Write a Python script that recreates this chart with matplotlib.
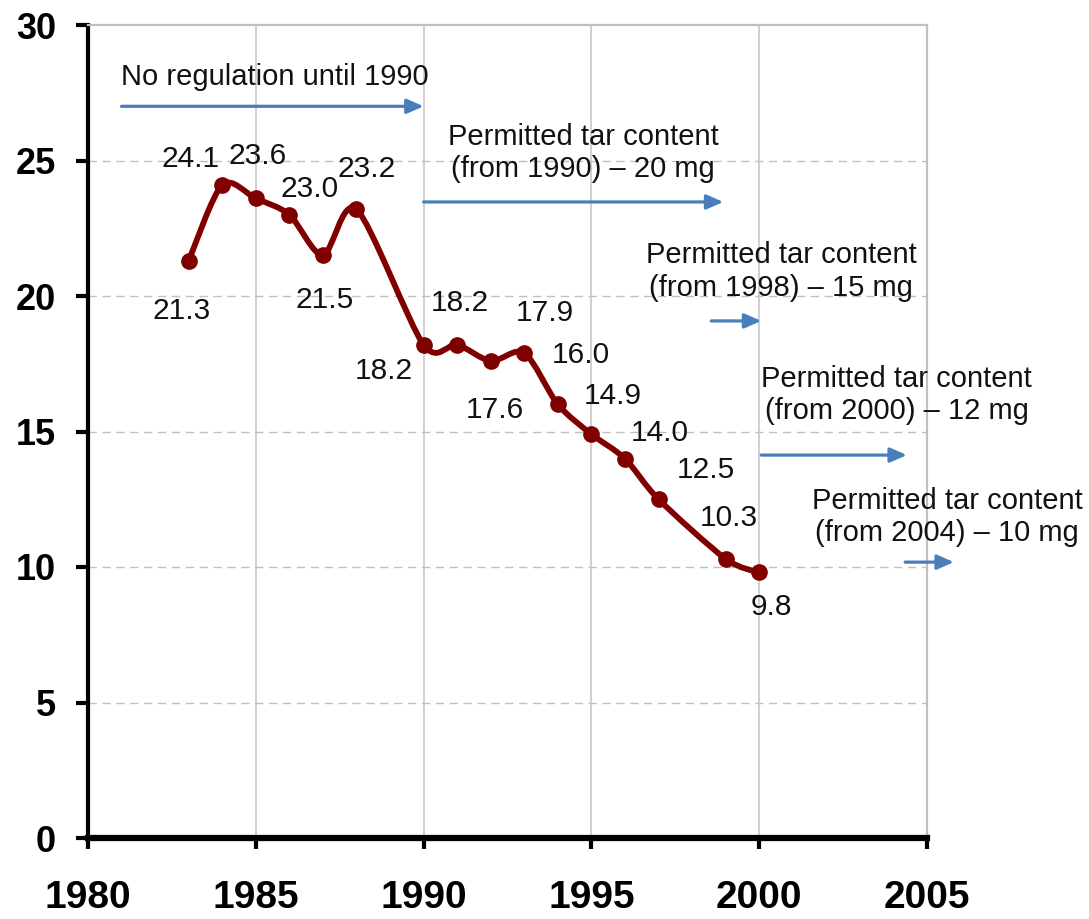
import matplotlib
matplotlib.use("Agg")
import matplotlib.pyplot as plt
from matplotlib.path import Path
from matplotlib.patches import PathPatch

plt.rcParams['font.family'] = ['Liberation Sans', 'DejaVu Sans']

# tar content per cigarette (mg)
years = [1983, 1984, 1985, 1986, 1987, 1988, 1990, 1991, 1992, 1993,
         1994, 1995, 1996, 1997, 1999, 2000]
tar = [21.3, 24.1, 23.6, 23.0, 21.5, 23.2, 18.2, 18.2, 17.6, 17.9,
       16.0, 14.9, 14.0, 12.5, 10.3, 9.8]
value_labels = ["%.1f" % v for v in tar]

# label offsets in pixels (dx, dy up)
label_offsets = [(-7, -50), (-32, 26), (2, 42), (20, 26), (2, -45), (10, 40),
                 (-40, -26), (3, 42), (4, -49), (21, 40), (23, 49), (21, 38),
                 (35, 26), (47, 29), (3, 41), (12, -35)]

notes = ["No regulation until 1990",
         "Permitted tar content\n(from 1990) \u2013 20 mg",
         "Permitted tar content\n(from 1998) \u2013 15 mg",
         "Permitted tar content\n(from 2000) \u2013 12 mg",
         "Permitted tar content\n(from 2004) \u2013 10 mg"]
note_pos = [(1980.98, 28.08, 'left'), (1994.76, 25.28, 'center'),
            (2000.65, 20.9, 'center'), (2004.1, 16.35, 'center'),
            (2005.6, 11.85, 'center')]
arrows = [((1981.0, 27.0), (1990.0, 27.0)),
          ((1990.0, 23.47), (1998.93, 23.47)),
          ((1998.57, 19.08), (2000.06, 19.08)),
          ((2000.06, 14.13), (2004.4, 14.13)),
          ((2004.35, 10.18), (2005.8, 10.18))]

xticks = [1980, 1985, 1990, 1995, 2000, 2005]
yticks = [0, 5, 10, 15, 20, 25, 30]

red = '#800000'
blue = '#4a7ebb'

fig = plt.figure(figsize=(10.89, 9.19), dpi=100)
ax = fig.add_axes([88/1089, 1-838/919, (927-88)/1089, (838-25)/919])
ax.set_xlim(1980, 2005)
ax.set_ylim(0, 30)

# grid
for x in xticks[1:-1]:
    ax.axvline(x, color='#c8c8c8', lw=1.2, zorder=0)
for y in yticks[1:-1]:
    ax.axhline(y, color='#c0c0c0', lw=1.0, ls=(0, (6, 4)), zorder=0)

# smoothed line (Excel-like bezier through the points)
k = 1 / 7
pts = list(zip(years, tar))
verts = [pts[0]]
codes = [Path.MOVETO]
n = len(pts)
for i in range(n - 1):
    p0 = pts[i - 1] if i > 0 else pts[i]
    p1 = pts[i]
    p2 = pts[i + 1]
    p3 = pts[i + 2] if i + 2 < n else pts[i + 1]
    c1 = (p1[0] + (p2[0] - p0[0]) * k, p1[1] + (p2[1] - p0[1]) * k)
    c2 = (p2[0] - (p3[0] - p1[0]) * k, p2[1] - (p3[1] - p1[1]) * k)
    verts += [c1, c2, p2]
    codes += [Path.CURVE4] * 3
ax.add_patch(PathPatch(Path(verts, codes), fc='none', ec=red, lw=4.2,
                       capstyle='round', joinstyle='round', zorder=3))
ax.plot(years, tar, 'o', color=red, ms=11, zorder=4)

for x, y, lab, off in zip(years, tar, value_labels, label_offsets):
    ax.annotate(lab, (x, y), xytext=off, textcoords='offset pixels',
                ha='center', va='center', fontsize=21.5, color='#111111')

for txt, (x, y, ha) in zip(notes, note_pos):
    ax.text(x, y, txt, ha=ha, va='center', fontsize=21, color='#111111',
            linespacing=1.2, multialignment='center', clip_on=False)

for (x0, y0), (x1, y1) in arrows:
    ax.annotate('', xy=(x1, y1), xytext=(x0, y0), annotation_clip=False,
                arrowprops=dict(arrowstyle='-|>,head_length=0.5,head_width=0.22',
                                color=blue, lw=2.3, mutation_scale=20,
                                shrinkA=0, shrinkB=0))

# axes styling
ax.spines['left'].set_linewidth(3)
ax.spines['bottom'].set_linewidth(4.5)
ax.spines['top'].set_color('#c0c0c0')
ax.spines['right'].set_color('#c0c0c0')
ax.spines['top'].set_linewidth(1.6)
ax.spines['right'].set_linewidth(1.6)
ax.set_xticks(xticks)
ax.set_yticks(yticks)
ax.set_xticklabels([str(t) for t in xticks], fontsize=28, fontweight='bold')
ax.set_yticklabels([str(t) for t in yticks], fontsize=26, fontweight='bold')
ax.tick_params(axis='y', length=9, width=3, direction='out', pad=14)
ax.tick_params(axis='x', length=8, width=3, direction='out', pad=22)

fig.savefig('out.png', dpi=100)
